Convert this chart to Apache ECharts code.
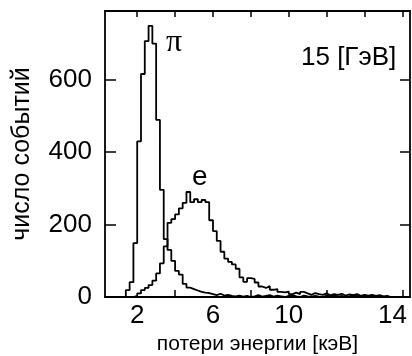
<!DOCTYPE html>
<html>
<head>
<meta charset="utf-8">
<script src="https://cdn.jsdelivr.net/npm/echarts@6/dist/echarts.min.js"></script>
<style>
html,body{margin:0;padding:0;background:#fff;}
#c{width:412px;height:356px;}
</style>
</head>
<body>
<div id="c"></div>
<script>
// bin starts (keV), width 0.2
const binStarts = [1.2,1.4,1.6,1.8,2.0,2.2,2.4,2.6,2.8,3.0,3.2,3.4,3.6,3.8,4.0,4.2,4.4,4.6,4.8,5.0,
  5.2,5.4,5.6,5.8,6.0,6.2,6.4,6.6,6.8,7.0,7.2,7.4,7.6,7.8,8.0,8.2,8.4,8.6,8.8,9.0,
  9.2,9.4,9.6,9.8,10.0,10.2,10.4,10.6,10.8,11.0,11.2,11.4,11.6,11.8,12.0,12.2,12.4,12.6,12.8,13.0,
  13.2,13.4,13.6,13.8,14.0,14.2,14.4,14.6,14.8,15.0,15.2,15.4];
const binWidth = 0.2;
const piCounts = [0,19,41,149,430,616,707,749,700,489,296,160,130,100,72,62,36,26,22,18,
  14,12,11,8,5,9,4,6,3,2,4,1,3,0,2,5,1,3,5,1,
  4,2,0,3,5,2,0,4,2,1,3,1,0,4,2,5,1,3,0,2,
  6,3,1,4,1,0,2,0,1,0,0,0];
const eCounts = [0,0,0,3,10,19,25,33,45,65,93,140,205,215,228,245,260,290,262,270,
  262,268,262,212,182,155,125,106,97,90,78,54,42,52,50,40,29,25,30,20,
  22,14,13,15,8,12,8,14,10,6,11,8,6,10,5,8,6,9,4,7,
  5,8,3,6,4,6,3,5,2,3,0,0];
const yTicks = [0,200,400,600];
const xLabelValues = [2,6,10,14];
const xBottomTicks = [4,8,12,16];
const xTopTicks = [2,4,6,8,10,12,14,16];
const yRightTicks = [200,400,600];
const xTitle = 'потери энергии [кэВ]';
const yTitle = 'число событий';
const energyLabel = '15 [ГэВ]';

function toSteps(counts){
  const d = binStarts.map((x,i)=>[x, counts[i]]);
  d.push([binStarts[binStarts.length-1]+binWidth, 0]);
  return d;
}

const FONT = '"Liberation Sans", Arial, sans-serif';
const chart = echarts.init(document.getElementById('c'), null, {renderer:'canvas'});
const lineStyle = {color:'#000', width:1.8};
chart.setOption({
  animation:false,
  grid:{left:105, right:2, top:11, bottom:59, containLabel:false, outerBoundsMode:'none'},
  xAxis:[{
    type:'value', min:0.3, max:16.4, position:'bottom',
    axisLine:{show:true, onZero:false, lineStyle:{color:'#000', width:1.8}},
    axisTick:{show:true, inside:true, length:7, customValues:xBottomTicks, lineStyle:{color:'#000', width:1.5}},
    axisLabel:{show:true, customValues:xLabelValues, color:'#000', fontSize:26, fontFamily:FONT, margin:6,
      formatter:(v)=> v===14 ? '{s|14}' : String(v),
      rich:{s:{fontSize:26, fontFamily:FONT, color:'#000', padding:[0,0,0,56]}}},
    splitLine:{show:false},
    name:xTitle, nameLocation:'middle', nameGap:37,
    nameTextStyle:{color:'#000', fontSize:21, fontFamily:FONT}
  },{
    type:'value', min:0.3, max:16.4, position:'top',
    axisLine:{show:true, onZero:false, lineStyle:{color:'#000', width:2}},
    axisTick:{show:true, inside:true, length:6, customValues:xTopTicks, lineStyle:{color:'#000', width:1.5}},
    axisLabel:{show:false}, splitLine:{show:false}
  }],
  yAxis:[{
    type:'value', min:0, max:790, interval:200, position:'left',
    axisLine:{show:true, onZero:false, lineStyle:{color:'#000', width:1.8}},
    axisTick:{show:true, inside:true, length:11, customValues:yTicks, lineStyle:{color:'#000', width:1.5}},
    axisLabel:{show:true, customValues:yTicks, color:'#000', fontSize:26, fontFamily:FONT, margin:13},
    splitLine:{show:false},
    name:yTitle, nameLocation:'middle', nameGap:70, nameRotate:90,
    nameTextStyle:{color:'#000', fontSize:25, fontFamily:FONT}
  },{
    type:'value', min:0, max:790, interval:200, position:'right',
    axisLine:{show:true, onZero:false, lineStyle:{color:'#000', width:1.8}},
    axisTick:{show:true, inside:true, length:10, customValues:yRightTicks, lineStyle:{color:'#000', width:1.5}},
    axisLabel:{show:false}, splitLine:{show:false}
  }],
  series:[{
    name:'π', type:'line', step:'end', xAxisIndex:0, yAxisIndex:0,
    symbol:'none', lineStyle:lineStyle, data:toSteps(piCounts), z:3
  },{
    name:'e', type:'line', step:'end', xAxisIndex:0, yAxisIndex:0,
    symbol:'none', lineStyle:lineStyle, data:toSteps(eCounts), z:3
  }],
  graphic:[
    {type:'text', left:166, top:27, style:{text:'π', font:'32px "Liberation Serif", "Times New Roman", serif', fill:'#000'}},
    {type:'text', left:192, top:163, style:{text:'e', font:'28px '+FONT, fill:'#000'}},
    {type:'text', left:301, top:45, style:{text:energyLabel, font:'26px '+FONT, fill:'#000'}}
  ]
});
</script>
</body>
</html>
